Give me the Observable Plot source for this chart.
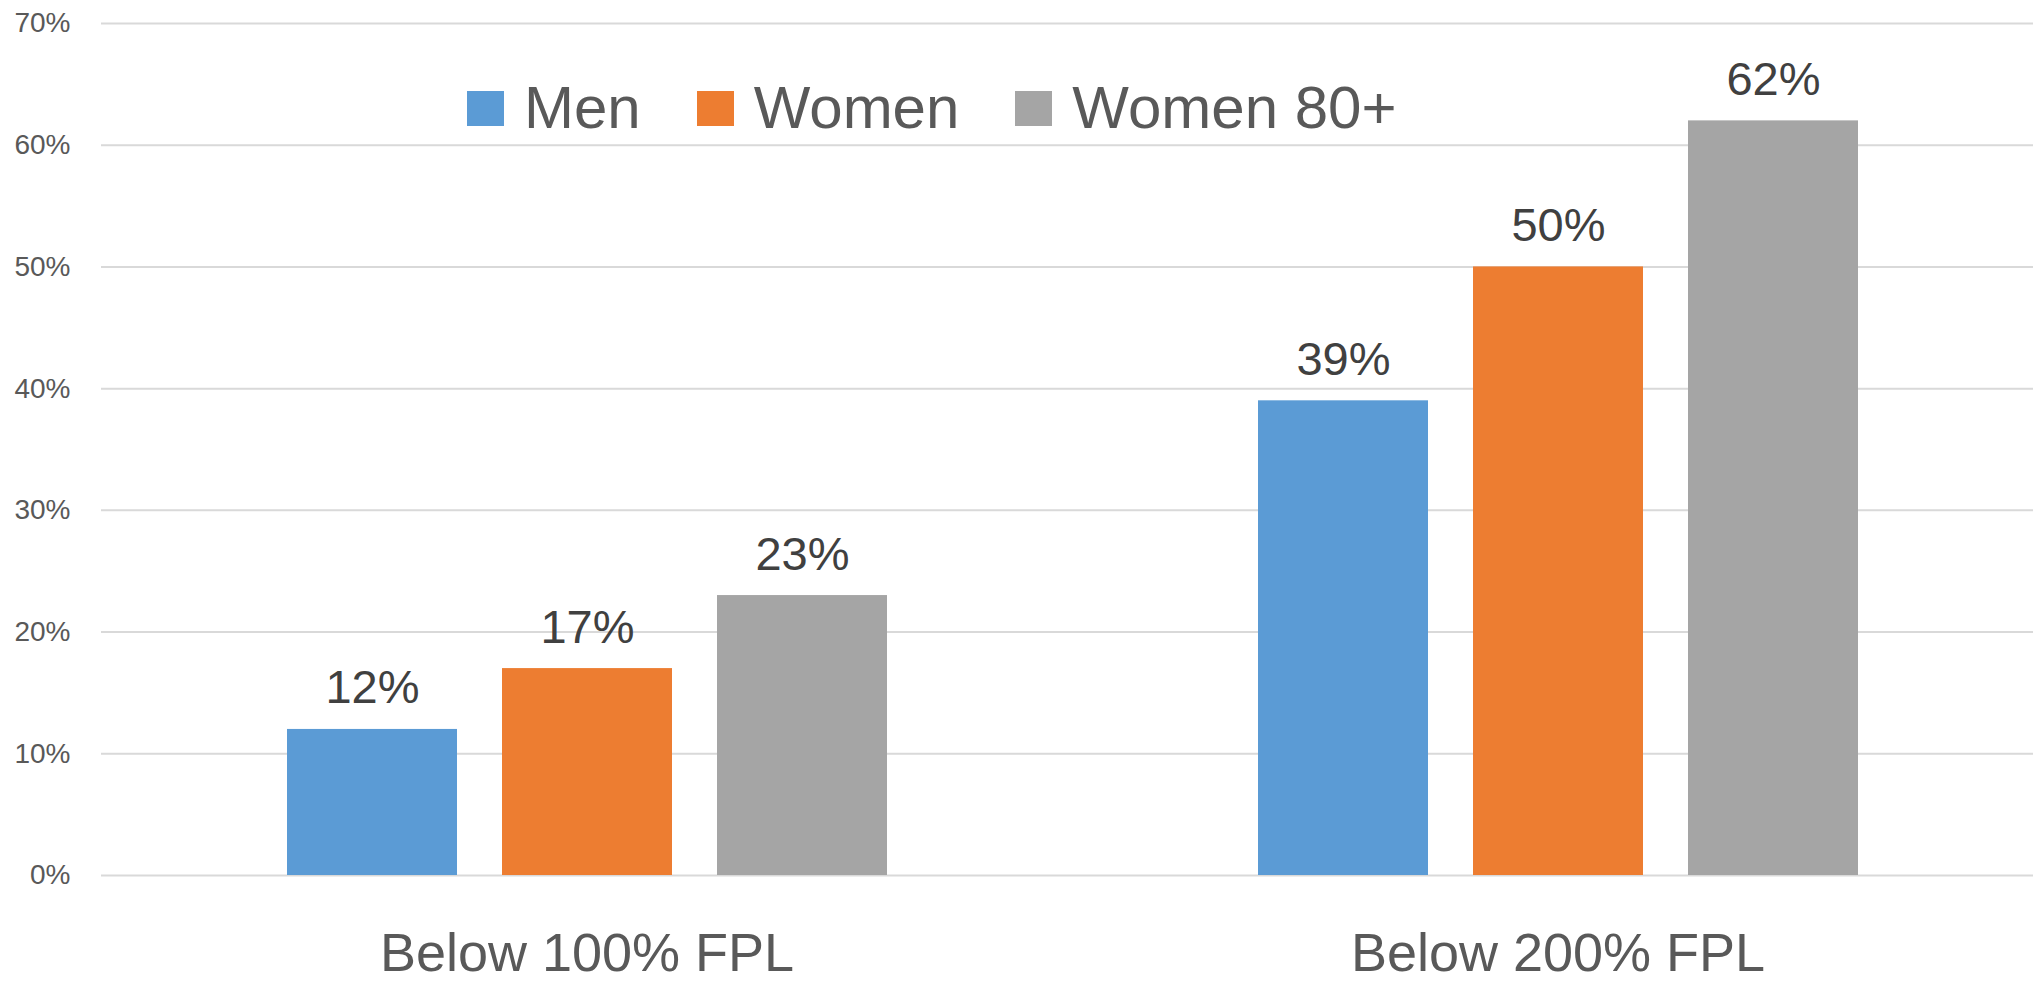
<!DOCTYPE html>
<html>
<head>
<meta charset="utf-8">
<script src="https://cdn.jsdelivr.net/npm/d3@7"></script>
<script src="https://cdn.jsdelivr.net/npm/@observablehq/plot@0.6"></script>
<style>
  html, body { margin: 0; padding: 0; background: #fff; }
  #wrap { position: relative; width: 2033px; height: 982px; overflow: hidden; }
  #legend {
    position: absolute; left: 467px; top: 78px;
    display: flex; align-items: center; gap: 56px;
    font-family: "Liberation Sans", Arial, sans-serif; font-size: 60px; line-height: 1; color: #595959;
  }
  #legend .item { display: flex; align-items: center; }
  #legend .sw { display: inline-block; width: 37px; height: 35px; margin-right: 20px; }
</style>
</head>
<body>
<div id="wrap"><div id="legend"></div></div>
<script>
// ---- data ----
const groups = ["Below 100% FPL", "Below 200% FPL"];
const series = ["Men", "Women", "Women 80+"];
const seriesColors = ["#5B9BD5", "#ED7D31", "#A5A5A5"];
const below100 = [0.12, 0.17, 0.23];
const below200 = [0.39, 0.50, 0.62];
const yTicks = [0, 0.1, 0.2, 0.3, 0.4, 0.5, 0.6, 0.7];

const groupValues = [below100, below200];
const rows = groups.flatMap((g, gi) =>
  series.map((s, si) => ({group: g, series: s, value: groupValues[gi][si]}))
);
const pct = d3.format(".0%");

const chart = Plot.plot({
  width: 2033,
  height: 982,
  marginTop: 23,
  marginBottom: 107,
  marginLeft: 100,
  marginRight: 0,
  style: {fontFamily: "'Liberation Sans', Arial, sans-serif", background: "#fff"},
  fx: {domain: groups, padding: 0, range: [100, 2043]},
  x: {domain: series, paddingInner: 0.21, paddingOuter: 0.862, axis: null},
  y: {domain: [0, 0.7]},
  color: {domain: series, range: seriesColors},
  marks: [
    Plot.ruleY(yTicks, {stroke: "#d9d9d9", strokeWidth: 2}),
    Plot.barY(rows, {fx: "group", x: "series", y: "value", fill: "series"}),
    Plot.text(rows, {
      fx: "group", x: "series", y: "value",
      text: d => pct(d.value),
      lineAnchor: "bottom", dy: -26,
      fontSize: 47, fill: "#404040"
    }),
    Plot.axisY(yTicks, {
      tickSize: 0, tickPadding: 31, tickFormat: pct,
      fontSize: 28, color: "#595959", label: null
    }),
    Plot.axisFx({
      anchor: "bottom", tickSize: 0, tickPadding: 57,
      fontSize: 54, color: "#595959", label: null
    })
  ]
});
const wrap = document.getElementById("wrap");
wrap.insertBefore(chart, wrap.firstChild);

const legend = document.getElementById("legend");
series.forEach((s, i) => {
  const item = document.createElement("div");
  item.className = "item";
  const sw = document.createElement("span");
  sw.className = "sw";
  sw.style.background = seriesColors[i];
  const label = document.createElement("span");
  label.textContent = s;
  item.appendChild(sw);
  item.appendChild(label);
  legend.appendChild(item);
});
</script>
</body>
</html>
